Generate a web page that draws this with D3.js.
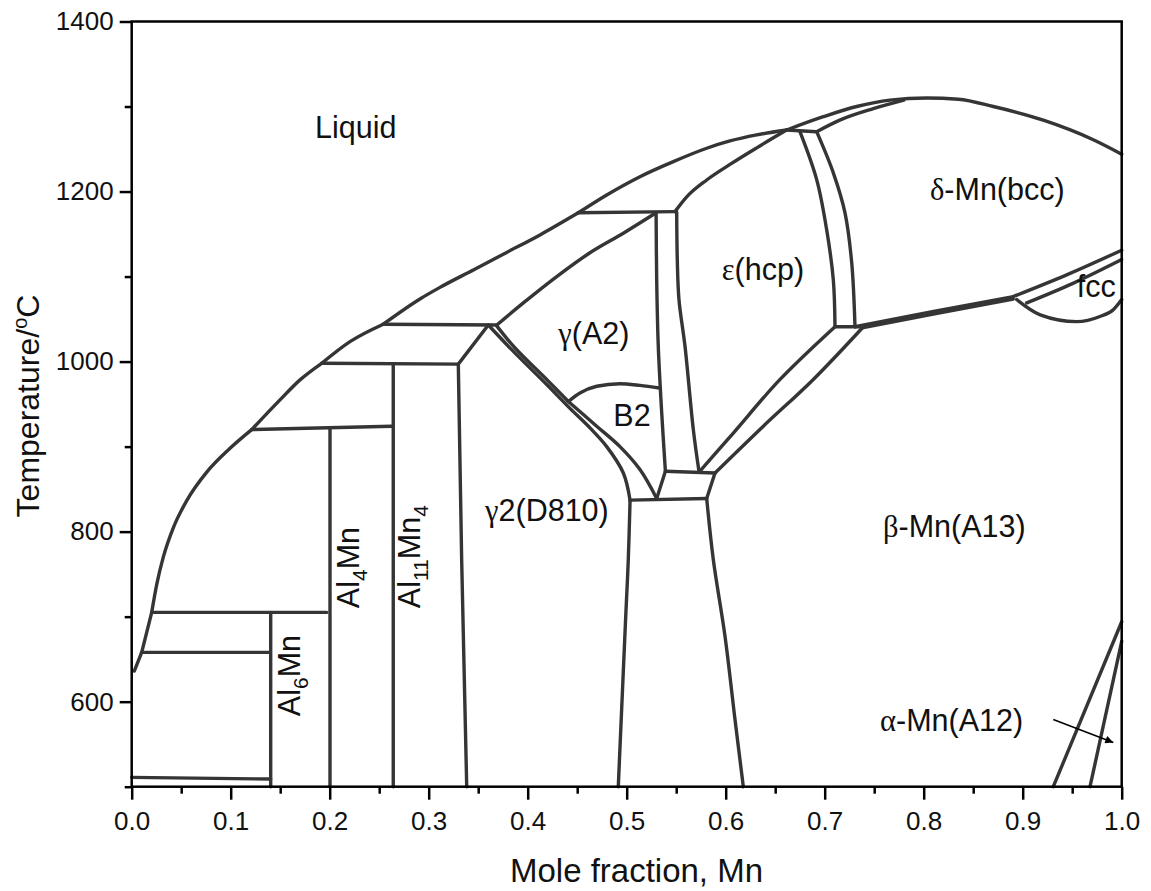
<!DOCTYPE html>
<html>
<head>
<meta charset="utf-8">
<script src="https://cdnjs.cloudflare.com/ajax/libs/d3/7.8.5/d3.min.js"></script>
<style>
body { margin: 0; background: #fff; }
text { font-family: "Liberation Sans", Arial, sans-serif; fill: #111; }
</style>
</head>
<body>
<div id="elements"></div>
<script>
'use strict';

// ticks
var xTicks = [0.0, 0.1, 0.2, 0.3, 0.4, 0.5, 0.6, 0.7, 0.8, 0.9, 1.0];
var xMinorTicks = [0.05, 0.15, 0.25, 0.35, 0.45, 0.55, 0.65, 0.75, 0.85, 0.95];
var yTicks = [600, 800, 1000, 1200, 1400];
var yMinorTicks = [500, 700, 900, 1100, 1300];

// phase boundaries, [mole fraction Mn, temperature C]
// liquidus, split at the invariant points
var liquidusLow = [[0.0026, 636], [0.0101, 658], [0.0202, 705]];
var liquidus1 = [[0.0202, 705], [0.0253, 738], [0.0319, 770], [0.0420, 804.5], [0.0556, 836.5],
    [0.0758, 870], [0.0993, 898], [0.1212, 920]];
var liquidus2 = [[0.1212, 920], [0.1498, 955], [0.1700, 978.5], [0.1919, 998]];
var liquidus3 = [[0.1919, 998], [0.2205, 1023.5], [0.2541, 1044]];
var liquidus4 = [[0.2541, 1044], [0.2912, 1073.7], [0.3114, 1087.3], [0.3451, 1107.8],
    [0.3788, 1128.4], [0.4124, 1149], [0.4511, 1175]];
var liquidus5 = [[0.4511, 1175], [0.4798, 1196], [0.5134, 1217.5], [0.5471, 1235.2],
    [0.5808, 1250.9], [0.6043, 1259.5], [0.6313, 1266.6], [0.6616, 1272.4]];
var deltaLiquidus = [[0.6616, 1272.4], [0.6986, 1288], [0.7323, 1300], [0.7659, 1307.5],
    [0.8030, 1310], [0.8350, 1308.5], [0.8703, 1300], [0.9208, 1284], [0.9713, 1261], [1.0, 1244]];
var deltaSolidus = [[0.6919, 1270.4], [0.7152, 1284], [0.7491, 1297.5], [0.7800, 1307.5]];
var epsSolidus = [[0.5488, 1176.4], [0.5606, 1193.7], [0.5808, 1213.6], [0.6043, 1231.9],
    [0.6313, 1251.4], [0.6616, 1272.4]];
var gammaSolidus = [[0.3687, 1043], [0.3956, 1069], [0.4293, 1100], [0.4629, 1128],
    [0.4966, 1151], [0.5297, 1175]];
var epsDeltaLeft = [[0.6750, 1270.4], [0.6919, 1214], [0.7020, 1155], [0.7087, 1096], [0.7104, 1041]];
var epsDeltaRight = [[0.6919, 1270.4], [0.7087, 1222], [0.7205, 1175], [0.7273, 1116], [0.7306, 1041]];
var deltaBetaUpper = [[0.7306, 1041], [0.8100, 1059], [0.8905, 1076.5]];
var deltaBetaLower = [[0.7391, 1040], [0.8150, 1057], [0.8905, 1073.5]];
var deltaFccUpper = [[0.8905, 1076.5], [0.9444, 1102], [1.0, 1131]];
var deltaFccLower = [[0.9040, 1069], [0.9508, 1092], [1.0, 1120]];
var fccBottom = [[0.8939, 1073], [0.9177, 1055], [0.9545, 1047], [0.9780, 1053], [0.9915, 1061], [1.0, 1073]];
var epsBetaUpper = [[0.7104, 1041], [0.6549, 979], [0.6077, 916], [0.5731, 870]];
var epsBetaLower = [[0.7391, 1041], [0.6885, 979], [0.6380, 924], [0.5892, 869]];
var epsGamma = [[0.5505, 1176], [0.5511, 1120], [0.5528, 1073], [0.5589, 1018], [0.5673, 920], [0.5731, 870]];
var gammaRight = [[0.5297, 1175], [0.5303, 1096], [0.5319, 1018], [0.5354, 939], [0.5391, 871]];
var gamma2Upper = [[0.3602, 1043], [0.3855, 1012], [0.4192, 973], [0.4427, 945], [0.4629, 922],
    [0.4798, 900], [0.4966, 869], [0.5034, 837]];
var gammaLeft = [[0.3687, 1042], [0.3872, 1016], [0.4208, 977], [0.4410, 953]];
var b2Left = [[0.4410, 953], [0.4697, 924], [0.4932, 900], [0.5134, 873], [0.5303, 839]];
var b2Top = [[0.4410, 953], [0.4528, 963], [0.4697, 971], [0.4932, 974], [0.5135, 972], [0.5330, 969]];
var g2BetaLeft = [[0.5034, 837], [0.5016, 767], [0.4990, 700], [0.4915, 500]];
var g2BetaRight = [[0.5808, 839], [0.5875, 767], [0.5993, 677], [0.6094, 579], [0.6178, 500]];
var alphaLeft = [[0.9309, 500], [1.0, 694]];
var alphaRight = [[0.9680, 500], [1.0, 671]];

// invariant lines and compound lines (straight)
var tie1270 = [[0.6616, 1272.4], [0.6919, 1270.4]];
var tie1175 = [[0.4511, 1175], [0.5488, 1176.4]];
var tie1043 = [[0.2541, 1044], [0.3687, 1043]];
var tie1041 = [[0.7104, 1041], [0.7391, 1041]];
var tie996 = [[0.1919, 998], [0.3299, 997]];
var tie921 = [[0.1212, 920], [0.2626, 924]];
var tie870 = [[0.5391, 871], [0.5892, 869]];
var tie838 = [[0.5034, 837], [0.5808, 839]];
var tie705 = [[0.0202, 705], [0.1970, 705]];
var tie658 = [[0.0101, 658], [0.1397, 658]];
var tie510 = [[0.0, 511], [0.1404, 509]];
var link870a = [[0.5391, 871], [0.5303, 839]];
var link870b = [[0.5892, 869], [0.5808, 839]];
var al6Mn = [[0.1404, 705], [0.1404, 500]];
var al4Mn = [[0.2003, 921], [0.2003, 500]];
var al11Mn4Left = [[0.2642, 997], [0.2642, 500]];
var al11Mn4Right = [[0.3602, 1043], [0.3299, 997], [0.3333, 767], [0.3384, 500]];

var smoothX = [liquidus1, liquidus2, liquidus3, liquidus4, liquidus5, deltaLiquidus, deltaSolidus,
    epsSolidus, gammaSolidus, deltaBetaUpper, deltaBetaLower, deltaFccUpper, deltaFccLower,
    fccBottom, b2Top];
var smoothY = [epsDeltaLeft, epsDeltaRight, epsBetaUpper, epsBetaLower, epsGamma, gammaRight,
    gamma2Upper, gammaLeft, b2Left, g2BetaLeft, g2BetaRight];
var straight = [liquidusLow, alphaLeft, alphaRight, tie1270, tie1175, tie1043, tie1041, tie996,
    tie921, tie870, tie838, tie705, tie658, tie510, link870a, link870b, al6Mn, al4Mn,
    al11Mn4Left, al11Mn4Right];

// phase labels: text, x, T (baseline start)
var phaseLabels = [
    ["Liquid", 0.1852, 1263],
    ["δ-Mn(bcc)", 0.8063, 1190],
    ["ε(hcp)", 0.5960, 1096],
    ["γ(A2)", 0.4309, 1021],
    ["B2", 0.4865, 924],
    ["γ2(D810)", 0.3569, 813],
    ["β-Mn(A13)", 0.7589, 794],
    ["fcc", 0.9545, 1076],
    ["α-Mn(A12)", 0.7559, 565]
];
// compound labels (vertical): parts [text, isSub], x, T
var compoundLabels = [
    [[["Al", false], ["6", true], ["Mn", false]], 0.1781, 583],
    [[["Al", false], ["4", true], ["Mn", false]], 0.2374, 710],
    [[["Al", false], ["11", true], ["Mn", false], ["4", true]], 0.2996, 710]
];
var arrowLine = [[0.9309, 579], [0.9915, 552]];

var canvas_width = 1151, canvas_height = 891;
var svg = d3.select("#elements").append("svg")
    .attr("width", canvas_width)
    .attr("height", canvas_height);

var margin = {top: 21.5, left: 131.7};
var width = 990, height = 765.2;
var g = svg.append("g").attr("transform", "translate(" + margin.left + "," + margin.top + ")");

var x = d3.scaleLinear().domain([0, 1]).range([0, width]);
var y = d3.scaleLinear().domain([500, 1400]).range([height, 0]);

svg.append("defs").append("marker")
    .attr("id", "arrow")
    .attr("viewBox", "0 0 10 10")
    .attr("refX", 10).attr("refY", 5)
    .attr("markerWidth", 17).attr("markerHeight", 8)
    .attr("markerUnits", "userSpaceOnUse")
    .attr("orient", "auto")
    .append("path").attr("d", "M0,0 L10,5 L0,10 z").attr("fill", "#000");

//Curves
var makeLine = function(curve) {
    return d3.line()
        .x(function(d) { return x(d[0]); })
        .y(function(d) { return y(d[1]); })
        .curve(curve);
};
var lineX = makeLine(d3.curveMonotoneX);
var lineY = makeLine(d3.curveCatmullRom.alpha(0.5));
var lineStraight = makeLine(d3.curveLinear);

var lines = g.append("g")
    .attr("fill", "none")
    .attr("stroke", "#353535")
    .attr("stroke-width", 3.4)
    .attr("stroke-linejoin", "round")
    .attr("stroke-linecap", "round");

lines.selectAll("path.sx")
    .data(smoothX)
    .enter().append("path")
    .attr("class", "sx")
    .attr("d", lineX);

lines.selectAll("path.sy")
    .data(smoothY)
    .enter().append("path")
    .attr("class", "sy")
    .attr("d", lineY);

lines.selectAll("path.s")
    .data(straight)
    .enter().append("path")
    .attr("class", "s")
    .attr("d", lineStraight);

//Arrow
g.append("path")
    .attr("d", lineStraight(arrowLine))
    .attr("stroke", "#000")
    .attr("stroke-width", 1.5)
    .attr("fill", "none")
    .attr("marker-end", "url(#arrow)");

//Phase labels
var isGreek = function(ch) { return /[\u03b1-\u03c9]/.test(ch); };
g.selectAll("text.phase")
    .data(phaseLabels)
    .enter().append("text")
    .attr("class", "phase")
    .attr("x", function(d) { return x(d[1]); })
    .attr("y", function(d) { return y(d[2]); })
    .attr("font-size", 30.5)
    .each(function(d) {
        var t = d3.select(this);
        d[0].split("").forEach(function(ch) {
            var s = t.append("tspan").text(ch);
            if (isGreek(ch)) s.style("font-family", "'Liberation Serif', 'DejaVu Serif', serif");
        });
    });

g.selectAll("text.compound")
    .data(compoundLabels)
    .enter().append("text")
    .attr("class", "compound")
    .attr("font-size", 30.5)
    .attr("transform", function(d) {
        return "translate(" + x(d[1]) + "," + y(d[2]) + ") rotate(-90)";
    })
    .each(function(d) {
        var t = d3.select(this);
        d[0].forEach(function(p) {
            if (p[1]) {
                t.append("tspan").attr("font-size", 21).attr("dy", 8).text(p[0]);
            } else {
                t.append("tspan").attr("dy", t.selectAll("tspan").size() ? -8 : 0).text(p[0]);
            }
        });
    });

//Axes
var xAxis = d3.axisBottom(x).tickValues(xTicks).tickSize(13).tickPadding(12)
    .tickSizeOuter(0).tickFormat(d3.format(".1f"));
var xMinor = d3.axisBottom(x).tickValues(xMinorTicks).tickSize(7).tickFormat("");
var yAxis = d3.axisLeft(y).tickValues(yTicks).tickSize(12).tickPadding(6).tickSizeOuter(0)
    .tickFormat(d3.format("d"));
var yMinor = d3.axisLeft(y).tickValues(yMinorTicks).tickSize(7).tickFormat("");

var axes = [
    g.append("g").attr("transform", "translate(0," + height + ")").call(xAxis),
    g.append("g").attr("transform", "translate(0," + height + ")").call(xMinor),
    g.append("g").call(yAxis),
    g.append("g").call(yMinor)
];
axes.forEach(function(a) {
    a.select(".domain").remove();
    a.selectAll("line").attr("stroke", "#000").attr("stroke-width", 2.5);
    a.selectAll("text").attr("font-size", 26).attr("fill", "#111")
        .style("font-family", "'Liberation Sans', Arial, sans-serif");
});

g.append("rect")
    .attr("x", 0).attr("y", 0)
    .attr("width", width).attr("height", height)
    .attr("fill", "none")
    .attr("stroke", "#000")
    .attr("stroke-width", 2.5);

//Axis titles
svg.append("text")
    .attr("x", 636.5).attr("y", 882)
    .attr("text-anchor", "middle")
    .attr("font-size", 33)
    .text("Mole fraction, Mn");

var yTitle = svg.append("text")
    .attr("transform", "translate(39,406) rotate(-90)")
    .attr("text-anchor", "middle")
    .attr("font-size", 32);
yTitle.append("tspan").text("Temperature/");
yTitle.append("tspan").attr("font-size", 20).attr("dy", -12).text("o");
yTitle.append("tspan").attr("dy", 12).text("C");
</script>
</body>
</html>
